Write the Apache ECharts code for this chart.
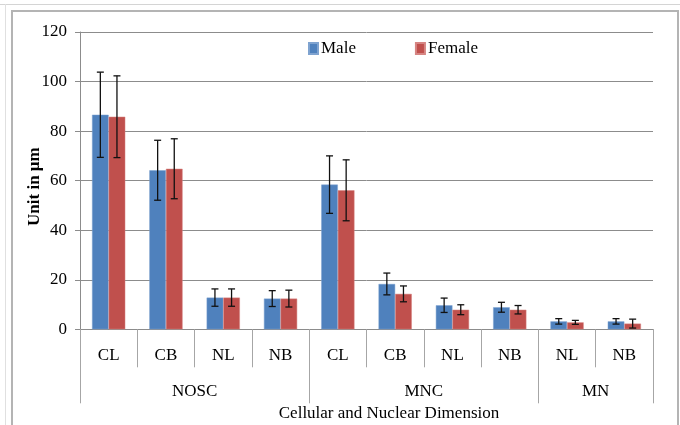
<!DOCTYPE html>
<html>
<head>
<meta charset="utf-8">
<script src="https://cdn.jsdelivr.net/npm/echarts@6/dist/echarts.min.js"></script>
<style>html,body{margin:0;padding:0;background:#fff}#c{width:680px;height:425px}</style>
</head>
<body>
<div id="c"></div>
<script>
const categories = ['CL','CB','NL','NB','CL','CB','NL','NB','NL','NB'];
const groups = ['NOSC','MNC','MN'];
const groupSizes = [4,4,2];
const maleMean = [86.6,64.2,12.8,12.4,58.4,18.3,9.7,8.9,3.2,3.2];
const maleSD = [17.2,12.1,3.5,3.2,11.6,4.4,2.9,2.0,1.1,1.1];
const femaleMean = [85.8,64.8,12.8,12.4,56.1,14.3,7.9,7.9,2.8,2.3];
const femaleSD = [16.5,12.1,3.5,3.4,12.3,3.2,2.0,1.7,0.8,1.8];
const yTicks = {min:0, max:120, interval:20};

const FONT = 'Liberation Serif';
const barGapRatio = 0.42;

// group boundaries and centers
const bounds = [0];
groupSizes.forEach(s => bounds.push(bounds[bounds.length-1] + s));
const centers = groupSizes.map((s, i) => bounds[i] + s/2);

function errData(mean, sd) {
  return mean.map((m, i) => [i, m - sd[i], m + sd[i]]);
}

function errRender(side) {
  return function (params, api) {
    const i = api.value(0);
    const catW = api.size([1, 0])[0];
    const barW = catW * (1 - barGapRatio) / 2;
    const lo = api.coord([i, api.value(1)]);
    const hi = api.coord([i, api.value(2)]);
    const x = lo[0] + side * barW / 2;
    const cap = 3.5;
    const style = {stroke: '#111', lineWidth: 1.3};
    return {
      type: 'group',
      children: [
        {type: 'line', shape: {x1: x, y1: lo[1], x2: x, y2: hi[1]}, style},
        {type: 'line', shape: {x1: x - cap, y1: lo[1], x2: x + cap, y2: lo[1]}, style},
        {type: 'line', shape: {x1: x - cap, y1: hi[1], x2: x + cap, y2: hi[1]}, style}
      ]
    };
  };
}

const chart = echarts.init(document.getElementById('c'), null, {renderer: 'canvas'});
chart.setOption({
  animation: false,
  textStyle: {fontFamily: FONT},
  graphic: [
    {type: 'line', shape: {x1: 0, y1: 4.5, x2: 680, y2: 4.5}, style: {stroke: '#d4d4d4', lineWidth: 1}, silent: true},
    {type: 'line', shape: {x1: 5.5, y1: 4, x2: 5.5, y2: 425}, style: {stroke: '#e0e0e0', lineWidth: 1}, silent: true},
    {type: 'rect', shape: {x: 12, y: 11, width: 666, height: 430}, style: {fill: 'none', stroke: '#b4b4b4', lineWidth: 2}, silent: true}
  ],
  legend: {
    left: 303, top: 35,
    itemWidth: 9, itemHeight: 11, itemGap: 59,
    icon: 'rect',
    data: ['Male', 'Female'],
    textStyle: {fontFamily: FONT, fontSize: 17, color: '#000', padding: [0,0,0,-2]}
  },
  grid: {left: 80, right: 27, top: 32, bottom: 95.7, containLabel: false, outerBoundsMode: 'none'},
  xAxis: [
    {
      type: 'category',
      data: categories,
      axisLine: {lineStyle: {color: '#8c8c8c', width: 1}},
      axisTick: {show: true, interval: 0, length: 38, lineStyle: {color: '#a6a6a6'}},
      axisLabel: {interval: 0, margin: 18, fontSize: 17, color: '#000', fontFamily: FONT},
      splitLine: {show: false}
    },
    {
      type: 'value',
      position: 'bottom',
      min: 0, max: bounds[bounds.length-1],
      axisLine: {show: false},
      splitLine: {show: false},
      axisTick: {show: true, customValues: bounds, length: 74, lineStyle: {color: '#a6a6a6'}},
      axisLabel: {
        customValues: centers, margin: 54, fontSize: 17, color: '#000', fontFamily: FONT,
        formatter: v => groups[centers.indexOf(v)]
      },
      name: 'Cellular and Nuclear Dimension',
      nameLocation: 'middle',
      nameGap: 72,
      nameTextStyle: {fontSize: 17, color: '#000', fontFamily: FONT, padding: [0, 0, 0, 45]}
    }
  ],
  yAxis: {
    type: 'value',
    min: yTicks.min, max: yTicks.max, interval: yTicks.interval,
    axisLine: {show: true, lineStyle: {color: '#8c8c8c'}},
    axisTick: {show: true, length: 5, lineStyle: {color: '#8c8c8c'}},
    axisLabel: {margin: 13, fontSize: 17, color: '#000', fontFamily: FONT},
    splitLine: {lineStyle: {color: '#8c8c8c', width: 1}},
    name: 'Unit in μm',
    nameLocation: 'middle',
    nameRotate: 90,
    nameGap: 37,
    nameMoveOverlap: false,
    nameTextStyle: {fontSize: 17, fontWeight: 'bold', color: '#000', fontFamily: FONT, padding: [0, 12, 0, 0]}
  },
  series: [
    {name: 'Male', type: 'bar', data: maleMean, barGap: '0%', barCategoryGap: (barGapRatio*100) + '%',
     itemStyle: {color: '#4F81BD', borderColor: '#7fa3d0', borderWidth: 0.5}},
    {name: 'Female', type: 'bar', data: femaleMean, barGap: '0%', barCategoryGap: (barGapRatio*100) + '%',
     itemStyle: {color: '#C0504D', borderColor: '#d68583', borderWidth: 0.5}},
    {name: 'MaleErr', type: 'custom', data: errData(maleMean, maleSD), renderItem: errRender(-1),
     encode: {x: 0, y: [1, 2]}, z: 5, silent: true},
    {name: 'FemaleErr', type: 'custom', data: errData(femaleMean, femaleSD), renderItem: errRender(1),
     encode: {x: 0, y: [1, 2]}, z: 5, silent: true}
  ]
});
</script>
</body>
</html>
